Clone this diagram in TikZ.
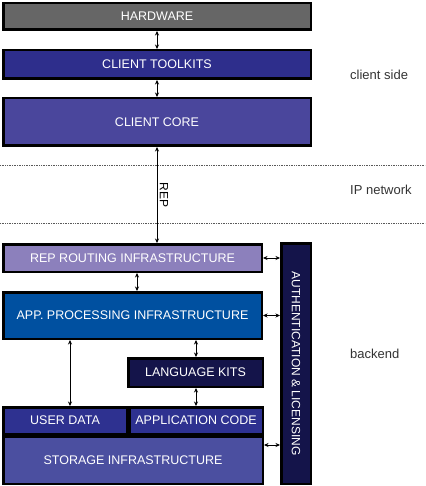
\documentclass[tikz,border=0pt]{standalone}
\usepackage{fontspec}
\setmainfont{Liberation Sans}
\usetikzlibrary{arrows.meta}
\definecolor{hwgray}{HTML}{666666}
\definecolor{ctblue}{HTML}{2E2E8C}
\definecolor{ccblue}{HTML}{4A469C}
\definecolor{rrlav}{HTML}{8C80BC}
\definecolor{appblue}{HTML}{0050A0}
\definecolor{navy}{HTML}{14144A}
\definecolor{udblue}{HTML}{2E3190}
\definecolor{stblue}{HTML}{4B4FA0}
\definecolor{labgray}{HTML}{333333}
\tikzset{
  layer/.style={draw=black, line width=2.5pt, text=white, inner sep=0pt,
    font=\fontsize{12.5}{14}\selectfont},
  dbl/.style={{Stealth[length=4.5pt,width=4pt]}-{Stealth[length=4.5pt,width=4pt]}, line width=0.6pt},
  sep/.style={draw=gray!70!black, line width=0.7pt, densely dotted},
  zone/.style={anchor=west, text=labgray, font=\fontsize{13}{15}\selectfont, inner sep=0pt},
}
\begin{document}
\begin{tikzpicture}[x=1pt,y=-1pt]
\useasboundingbox (0,0) rectangle (425,486);
% client side
\node[layer, fill=hwgray, minimum width=307.5, minimum height=26.5] (hw) at (157,16.5) {HARDWARE};
\node[layer, fill=ctblue, minimum width=307.5, minimum height=28.5] (ct) at (157,64.5) {CLIENT TOOLKITS};
\node[layer, fill=ccblue, minimum width=307.5, minimum height=47.5] (cc) at (157,122) {CLIENT CORE};
% backend
\node[layer, fill=rrlav, minimum width=258.5, minimum height=27.5] (rr) at (132.5,258) {REP ROUTING INFRASTRUCTURE};
\node[layer, fill=appblue, minimum width=258.5, minimum height=46.5] (app) at (132.5,315.5) {APP. PROCESSING INFRASTRUCTURE};
\node[layer, fill=navy, minimum width=134.5, minimum height=28.5] (lk) at (195.5,372.5) {LANGUAGE KITS};
\node[layer, fill=udblue, minimum width=123.5, minimum height=26.5] (ud) at (65,420.5) {USER DATA};
\node[layer, fill=udblue, minimum width=133.5, minimum height=26.5] (ac) at (196,420.5) {APPLICATION CODE};
\node[layer, fill=stblue, minimum width=259.5, minimum height=47.5] (st) at (133,460) {STORAGE INFRASTRUCTURE};
\node[layer, fill=navy, minimum width=29.5, minimum height=240.5] (auth) at (296,363.5) {};
\node[rotate=-90, text=white, font=\fontsize{12}{14}\selectfont, inner sep=0pt] (authtxt) at (auth.center) {AUTHENTICATION \& LICENSING};
% separators
\coordinate (s1l) at (0,165);
\coordinate (s1r) at (425,165);
\coordinate (s2l) at (0,223);
\coordinate (s2r) at (425,223);
\draw[sep] (s1l) -- (s1r);
\draw[sep] (s2l) -- (s2r);
% zone labels
\node[zone] (zc) at (350,75) {client side};
\node[zone] (zi) at (350,190) {IP network};
\node[zone] (zb) at (350,354) {backend};
% connectors
\draw[dbl] (hw.south) -- (ct.north);
\draw[dbl] (ct.south) -- (cc.north);
\draw[dbl] (cc.south) -- (cc.south |- rr.north)
  node[pos=0.5, rotate=-90, anchor=south, inner sep=2.5pt, font=\fontsize{12}{14}\selectfont] (rep) {REP};
\coordinate (x1) at (137,0);
\coordinate (x2) at (196,0);
\coordinate (x3) at (70,0);
\draw[dbl] (rr.south -| x1) -- (app.north -| x1);
\draw[dbl] (app.south -| x2) -- (lk.north -| x2);
\draw[dbl] (lk.south -| x2) -- (ac.north -| x2);
\draw[dbl] (app.south -| x3) -- (ud.north -| x3);
\draw[dbl] (rr.east) -- (rr.east -| auth.west);
\draw[dbl] (app.east) -- (app.east -| auth.west);
\coordinate (y1) at (0,445);
\draw[dbl] (st.east |- y1) -- (auth.west |- y1);
\end{tikzpicture}
\end{document}
